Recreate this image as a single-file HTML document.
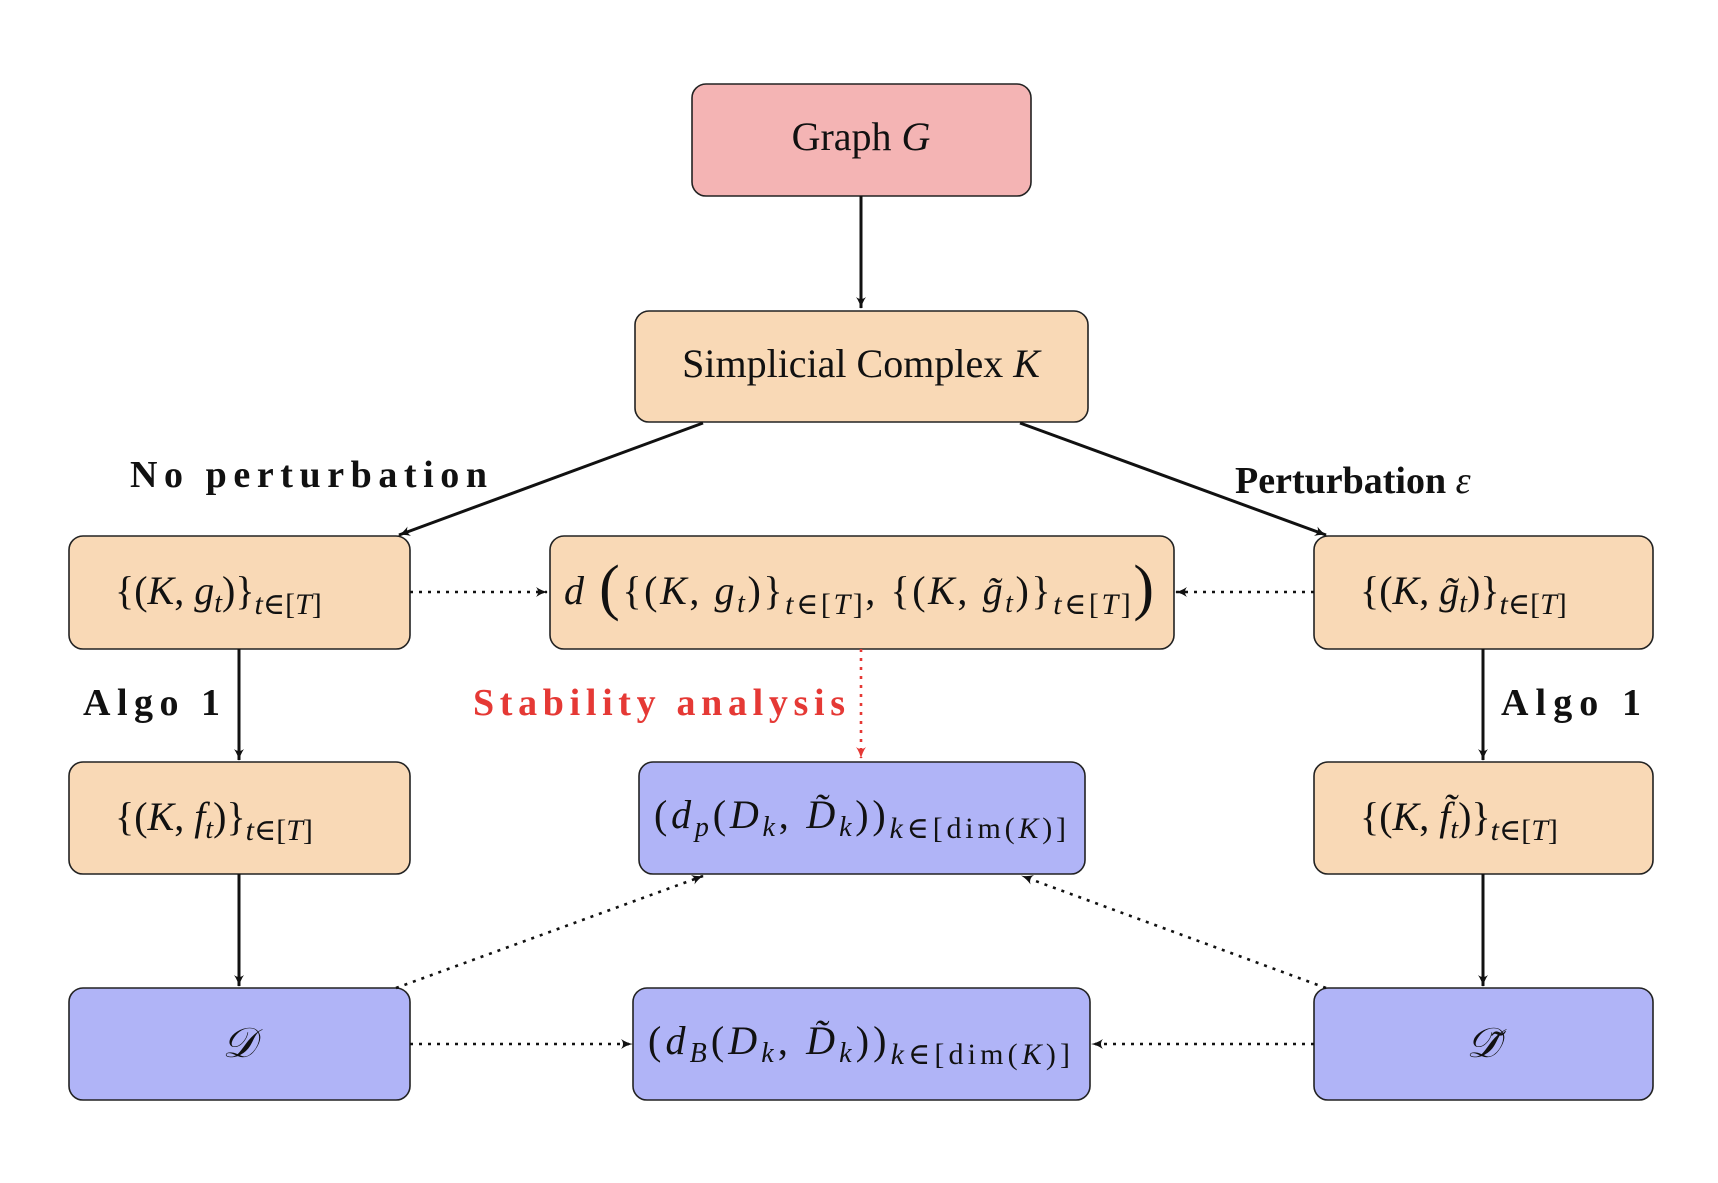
<!DOCTYPE html>
<html><head><meta charset="utf-8"><style>
html,body{margin:0;padding:0;background:#fff;}
svg text{font-family:"Liberation Serif","DejaVu Serif",serif;fill:#111;}
.m{font-style:italic;}
</style></head><body>
<svg width="1718" height="1178" viewBox="0 0 1718 1178" xmlns="http://www.w3.org/2000/svg">
<defs>
<marker id="a" viewBox="0 0 12 10" refX="11" refY="5" markerWidth="12" markerHeight="10" markerUnits="userSpaceOnUse" orient="auto"><path d="M0,0 Q6,4 12,5 Q6,6 0,10 Q4,5 0,0Z" fill="#111"/></marker>
<marker id="r" viewBox="0 0 12 10" refX="11" refY="5" markerWidth="12" markerHeight="10" markerUnits="userSpaceOnUse" orient="auto"><path d="M0,0 Q6,4 12,5 Q6,6 0,10 Q4,5 0,0Z" fill="#e53935"/></marker>
</defs>
<g stroke="#222" stroke-width="1.6">
<rect x="692" y="84" width="339" height="112" rx="14" fill="#f4b4b4"/>
<rect x="635" y="311" width="453" height="111" rx="14" fill="#f9d9b6"/>
<rect x="69" y="536" width="341" height="113" rx="14" fill="#f9d9b6"/>
<rect x="550" y="536" width="624" height="113" rx="14" fill="#f9d9b6"/>
<rect x="1314" y="536" width="339" height="113" rx="14" fill="#f9d9b6"/>
<rect x="69" y="762" width="341" height="112" rx="14" fill="#f9d9b6"/>
<rect x="639" y="762" width="446" height="112" rx="14" fill="#b0b4f7"/>
<rect x="1314" y="762" width="339" height="112" rx="14" fill="#f9d9b6"/>
<rect x="69" y="988" width="341" height="112" rx="14" fill="#b0b4f7"/>
<rect x="633" y="988" width="457" height="112" rx="14" fill="#b0b4f7"/>
<rect x="1314" y="988" width="339" height="112" rx="14" fill="#b0b4f7"/>
</g>
<g stroke="#111" stroke-width="3" fill="none" marker-end="url(#a)">
<line x1="861" y1="196" x2="861" y2="308"/>
<line x1="703" y1="423" x2="399" y2="535"/>
<line x1="1020" y1="423" x2="1326" y2="535"/>
<line x1="239" y1="649" x2="239" y2="760"/>
<line x1="1483" y1="649" x2="1483" y2="760"/>
<line x1="239" y1="874" x2="239" y2="986"/>
<line x1="1483" y1="874" x2="1483" y2="986"/>
</g>
<g stroke="#111" stroke-width="2.6" fill="none" stroke-dasharray="3 6" marker-end="url(#a)">
<line x1="410" y1="592" x2="547" y2="592"/>
<line x1="1314" y1="592" x2="1176" y2="592"/>
<line x1="396" y1="988" x2="703" y2="876"/>
<line x1="1326" y1="988" x2="1022" y2="876"/>
<line x1="410" y1="1044" x2="632" y2="1044"/>
<line x1="1314" y1="1044" x2="1092" y2="1044"/>
</g>
<line x1="861" y1="649" x2="861" y2="758" stroke="#e53935" stroke-width="2.6" stroke-dasharray="3 6" marker-end="url(#r)"/>

<text x="861" y="150" font-size="40" text-anchor="middle">Graph <tspan class="m">G</tspan></text>
<text x="861" y="377" font-size="40" text-anchor="middle">Simplicial Complex <tspan class="m">K</tspan></text>

<text x="130" y="487" font-size="38" font-weight="bold" textLength="357">No perturbation</text>
<text x="1235" y="493" font-size="38" font-weight="bold">Perturbation <tspan class="m" font-weight="normal">ε</tspan></text>
<text x="83" y="715" font-size="38" font-weight="bold" textLength="137">Algo 1</text>
<text x="1501" y="715" font-size="38" font-weight="bold" textLength="140">Algo 1</text>
<text x="473" y="715" font-size="38" font-weight="bold" fill="#e53935" style="fill:#e53935" textLength="372">Stability analysis</text>

<text x="115" y="604" font-size="40">{(<tspan class="m">K</tspan>, <tspan class="m">g</tspan><tspan class="m" font-size="28" dy="8">t</tspan><tspan dy="-8">)}</tspan><tspan class="m" font-size="30" dy="10">t</tspan><tspan font-size="30">∈[</tspan><tspan class="m" font-size="30">T</tspan><tspan font-size="30">]</tspan></text>
<text x="1360" y="604" font-size="40">{(<tspan class="m">K</tspan>, <tspan class="m">g̃</tspan><tspan class="m" font-size="28" dy="8">t</tspan><tspan dy="-8">)}</tspan><tspan class="m" font-size="30" dy="10">t</tspan><tspan font-size="30">∈[</tspan><tspan class="m" font-size="30">T</tspan><tspan font-size="30">]</tspan></text>
<text x="564" y="604" font-size="40" textLength="590"><tspan class="m">d</tspan> <tspan font-size="62" dy="4">(</tspan><tspan dy="-4">{(</tspan><tspan class="m">K</tspan>, <tspan class="m">g</tspan><tspan class="m" font-size="28" dy="8">t</tspan><tspan dy="-8">)}</tspan><tspan class="m" font-size="30" dy="10">t</tspan><tspan font-size="30">∈[</tspan><tspan class="m" font-size="30">T</tspan><tspan font-size="30">]</tspan><tspan dy="-10">, {(</tspan><tspan class="m">K</tspan>, <tspan class="m">g̃</tspan><tspan class="m" font-size="28" dy="8">t</tspan><tspan dy="-8">)}</tspan><tspan class="m" font-size="30" dy="10">t</tspan><tspan font-size="30">∈[</tspan><tspan class="m" font-size="30">T</tspan><tspan font-size="30">]</tspan><tspan font-size="62" dy="-6">)</tspan></text>

<text x="115" y="830" font-size="40">{(<tspan class="m">K</tspan>, <tspan class="m">f</tspan><tspan class="m" font-size="28" dy="8">t</tspan><tspan dy="-8">)}</tspan><tspan class="m" font-size="30" dy="10">t</tspan><tspan font-size="30">∈[</tspan><tspan class="m" font-size="30">T</tspan><tspan font-size="30">]</tspan></text>
<text x="1360" y="830" font-size="40">{(<tspan class="m">K</tspan>, <tspan class="m">f̃</tspan><tspan class="m" font-size="28" dy="8">t</tspan><tspan dy="-8">)}</tspan><tspan class="m" font-size="30" dy="10">t</tspan><tspan font-size="30">∈[</tspan><tspan class="m" font-size="30">T</tspan><tspan font-size="30">]</tspan></text>

<text x="654" y="828" font-size="40" textLength="412">(<tspan class="m">d</tspan><tspan class="m" font-size="28" dy="8">p</tspan><tspan dy="-8">(</tspan><tspan class="m">D</tspan><tspan class="m" font-size="28" dy="8">k</tspan><tspan dy="-8">, </tspan><tspan class="m">D̃</tspan><tspan class="m" font-size="28" dy="8">k</tspan><tspan dy="-8">))</tspan><tspan class="m" font-size="30" dy="10">k</tspan><tspan font-size="30">∈[dim(</tspan><tspan class="m" font-size="30">K</tspan><tspan font-size="30">)]</tspan></text>
<text x="648" y="1054" font-size="40" textLength="422">(<tspan class="m">d</tspan><tspan class="m" font-size="28" dy="8">B</tspan><tspan dy="-8">(</tspan><tspan class="m">D</tspan><tspan class="m" font-size="28" dy="8">k</tspan><tspan dy="-8">, </tspan><tspan class="m">D̃</tspan><tspan class="m" font-size="28" dy="8">k</tspan><tspan dy="-8">))</tspan><tspan class="m" font-size="30" dy="10">k</tspan><tspan font-size="30">∈[dim(</tspan><tspan class="m" font-size="30">K</tspan><tspan font-size="30">)]</tspan></text>

<text x="239" y="1057" font-size="42" text-anchor="middle" class="m">𝒟</text>
<text x="1483" y="1057" font-size="42" text-anchor="middle" class="m">𝒟̃</text>
</svg>
</body></html>
